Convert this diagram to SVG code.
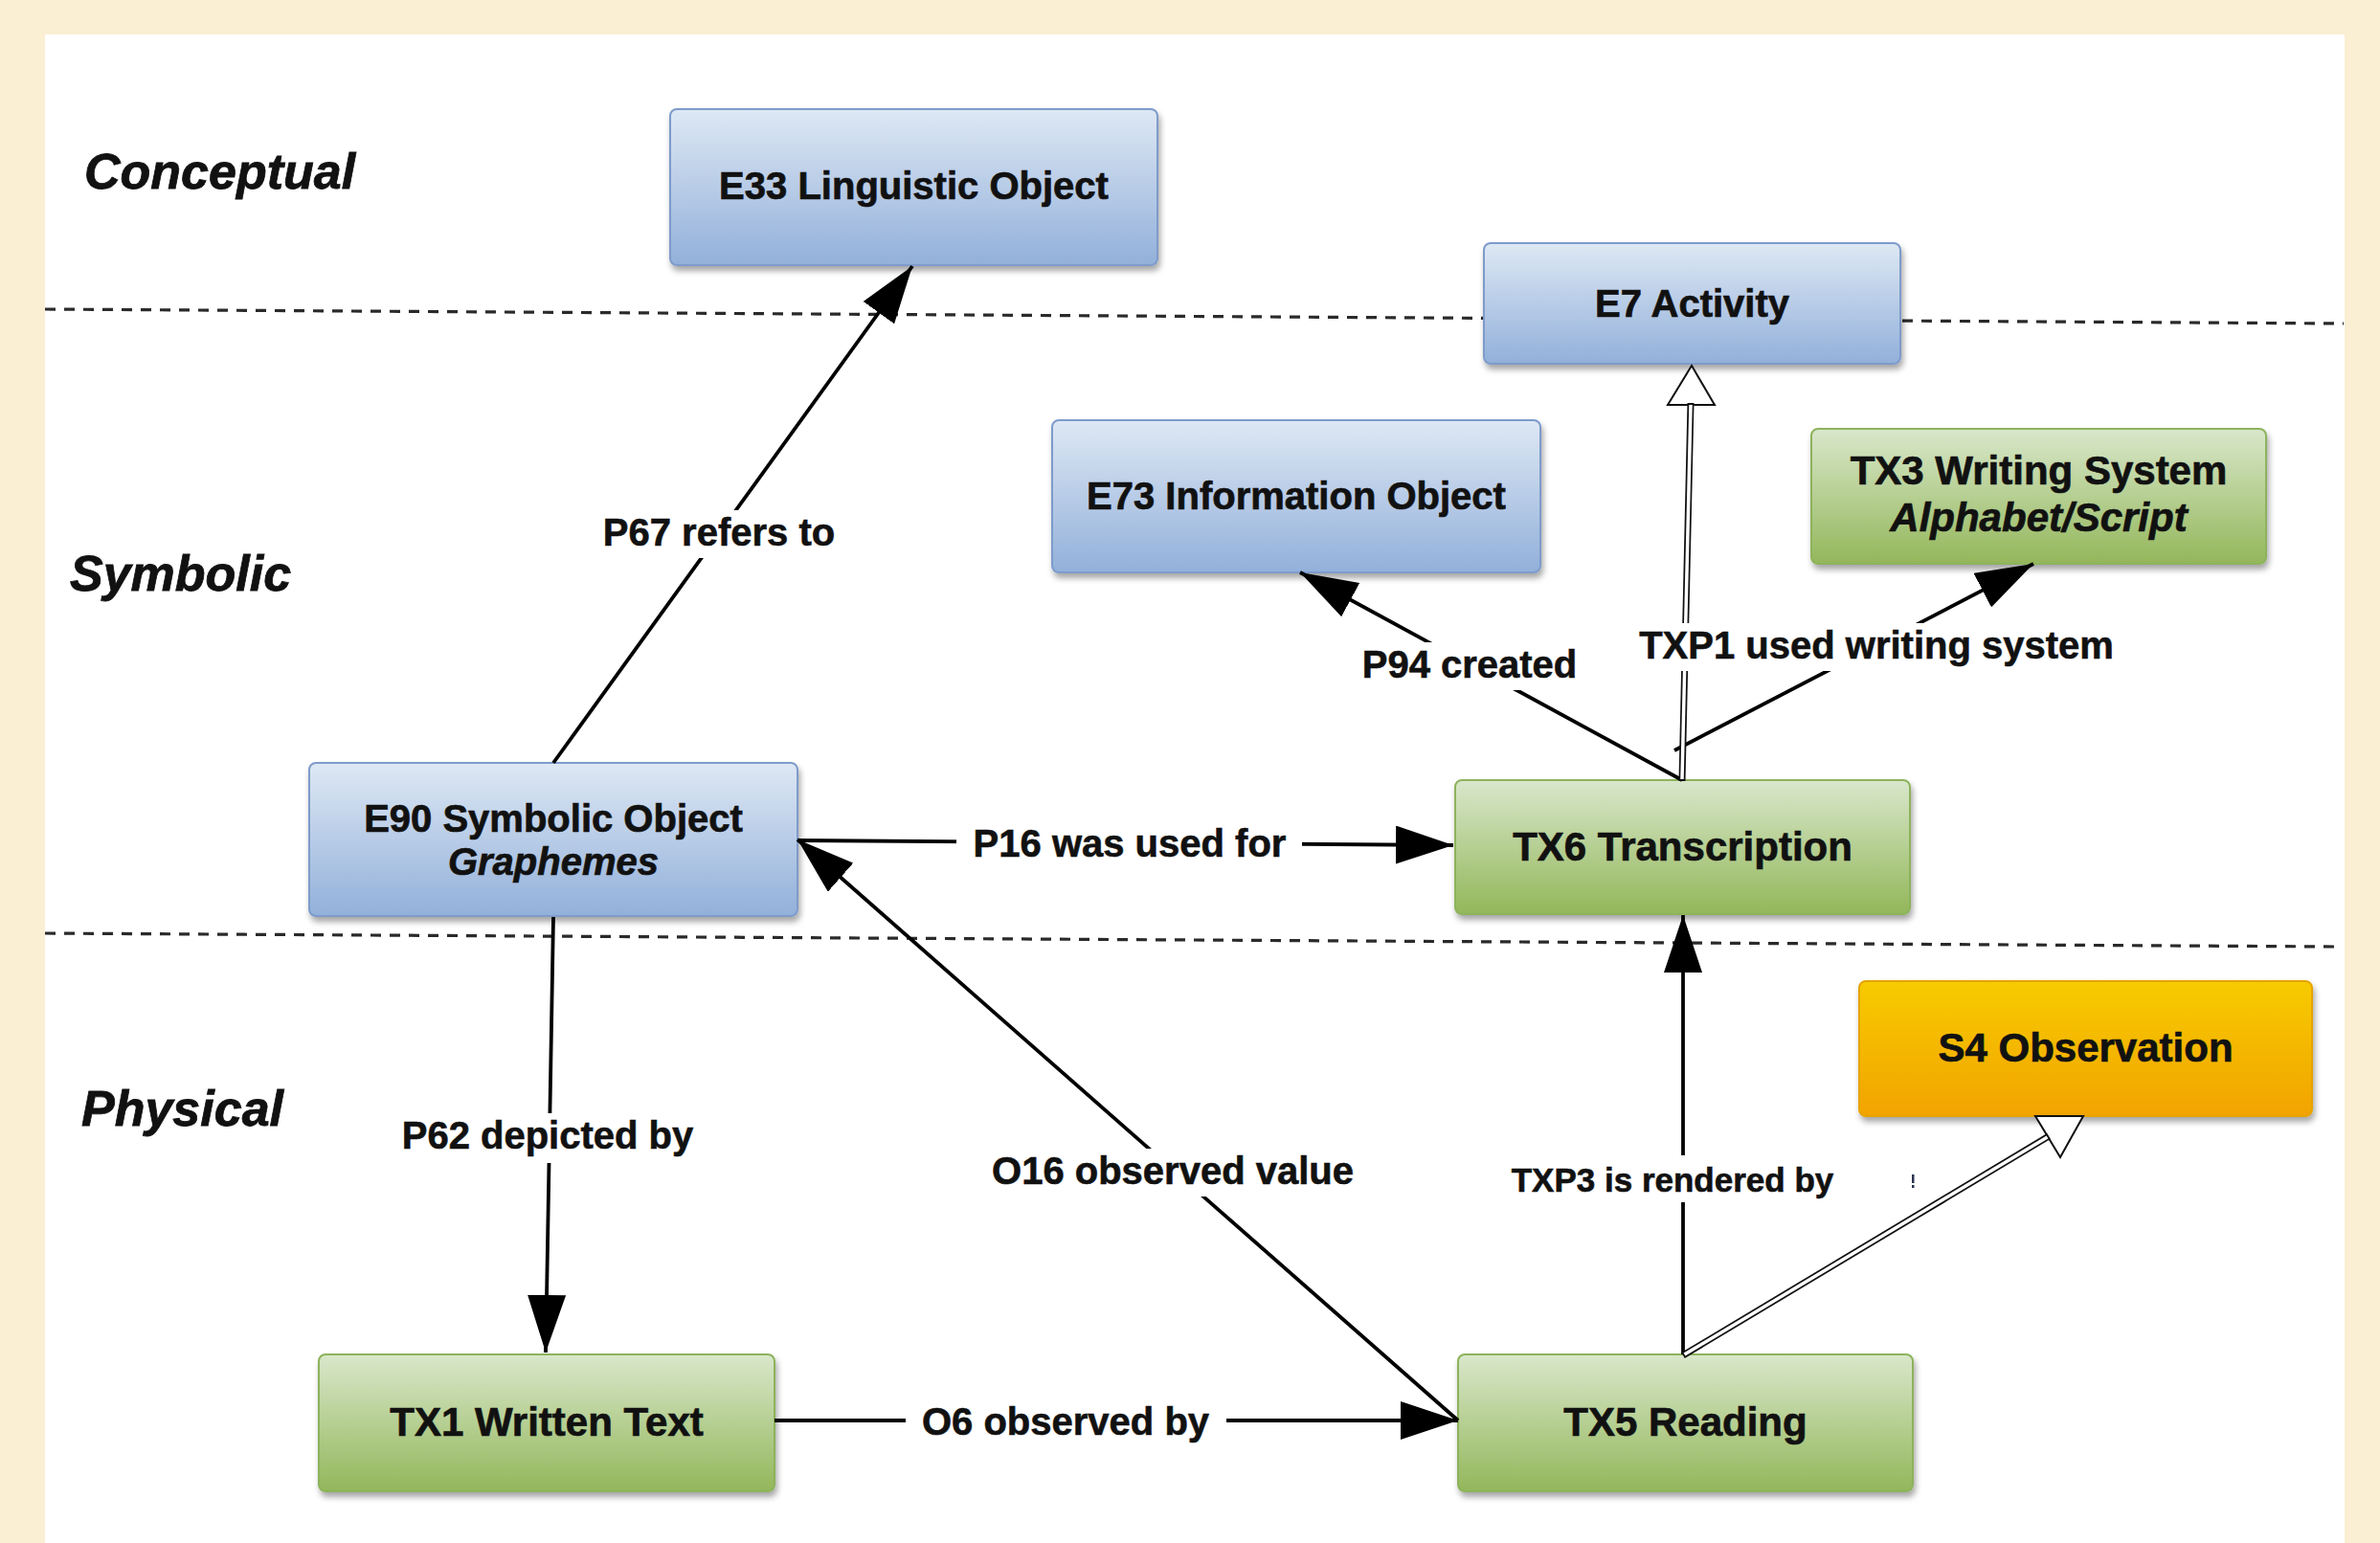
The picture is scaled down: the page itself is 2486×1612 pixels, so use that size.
<svg xmlns="http://www.w3.org/2000/svg" width="2486" height="1612" viewBox="0 0 2486 1612">
<defs>
<linearGradient id="gBlue" x1="0" y1="0" x2="0" y2="1"><stop offset="0" stop-color="#DEE8F4"/><stop offset="1" stop-color="#92B0DA"/></linearGradient>
<linearGradient id="gGreen" x1="0" y1="0" x2="0" y2="1"><stop offset="0" stop-color="#D9E7CB"/><stop offset="1" stop-color="#93B75A"/></linearGradient>
<linearGradient id="gOrange" x1="0" y1="0" x2="0" y2="1"><stop offset="0" stop-color="#F7CB00"/><stop offset="1" stop-color="#F2A300"/></linearGradient>
<filter id="sh" x="-5%" y="-10%" width="115%" height="130%"><feDropShadow dx="2" dy="5" stdDeviation="3" flood-color="#000" flood-opacity="0.35"/></filter>
<marker id="ah" markerUnits="userSpaceOnUse" viewBox="0 0 60 40" markerWidth="60" markerHeight="40" refX="60" refY="20" orient="auto"><path d="M0,0 L60,20 L0,40 Z" fill="#000"/></marker>
<style>
.node rect{stroke-width:2;filter:url(#sh)}
.blue rect{fill:url(#gBlue);stroke:#7E9BCB}
.green rect{fill:url(#gGreen);stroke:#8DB35C}
.orange rect{fill:url(#gOrange);stroke:#E6A400}
.nt{font-family:"Liberation Sans",Arial,sans-serif;font-weight:bold;text-anchor:middle;fill:#111;stroke:#111;stroke-width:0.7}
.blue .nt{font-size:40px}
.green .nt,.orange .nt{font-size:42px}
.it{font-style:italic}
.layer{font-family:"Liberation Sans",Arial,sans-serif;font-weight:bold;font-style:italic;font-size:52px;fill:#111;stroke:#111;stroke-width:0.8}
.dash{stroke:#2A2A2A;stroke-width:3.2;stroke-dasharray:11 9;fill:none}
.edge{stroke:#000;stroke-width:3.8;fill:none}
.hout{stroke:#111;stroke-width:7;fill:none}
.hin{stroke:#fff;stroke-width:3.5;fill:none}
.hhead{fill:#fff;stroke:#111;stroke-width:2}
.lbg{fill:#fff}
.lbl{font-family:"Liberation Sans",Arial,sans-serif;font-weight:bold;font-size:40px;text-anchor:middle;fill:#111;stroke:#111;stroke-width:0.6}
.lbl.sm{font-size:35px}
</style>
</defs>
<rect x="0" y="0" width="2486" height="1612" fill="#FAEFD2"/>
<rect x="47" y="36" width="2402" height="1576" fill="#FFFFFF"/>

<g id="layers">
<line class="dash" x1="47" y1="323" x2="2448" y2="338"/>
<line class="dash" x1="47" y1="975" x2="2440" y2="989"/>
<text class="layer" x="88" y="197">Conceptual</text>
<text class="layer" x="73" y="617">Symbolic</text>
<text class="layer" x="85" y="1176">Physical</text>
</g>

<g id="n-e33" class="node blue"><rect x="700" y="114" width="509" height="163" rx="7"/><text class="nt" x="954.5" y="208">E33 Linguistic Object</text></g>
<g id="n-e7" class="node blue"><rect x="1550" y="254" width="435" height="126" rx="7"/><text class="nt" x="1767.5" y="331">E7 Activity</text></g>
<g id="n-e73" class="node blue"><rect x="1099" y="439" width="510" height="159" rx="7"/><text class="nt" x="1354" y="532">E73 Information Object</text></g>
<g id="n-tx3" class="node green"><rect x="1892" y="448" width="475" height="141" rx="7"/><text class="nt" x="2129.5" y="506">TX3 Writing System</text><text class="nt it" x="2129.5" y="555">Alphabet/Script</text></g>
<g id="n-e90" class="node blue"><rect x="323" y="797" width="510" height="160" rx="7"/><text class="nt" x="578" y="869">E90 Symbolic Object</text><text class="nt it" x="578" y="914">Graphemes</text></g>
<g id="n-tx6" class="node green"><rect x="1520" y="815" width="475" height="140" rx="7"/><text class="nt" x="1757.5" y="899">TX6 Transcription</text></g>
<g id="n-s4" class="node orange"><rect x="1942" y="1025" width="473" height="141" rx="7"/><text class="nt" x="2178.5" y="1109">S4 Observation</text></g>
<g id="n-tx1" class="node green"><rect x="333" y="1415" width="476" height="143" rx="7"/><text class="nt" x="571" y="1500">TX1 Written Text</text></g>
<g id="n-tx5" class="node green"><rect x="1523" y="1415" width="475" height="143" rx="7"/><text class="nt" x="1760.5" y="1500">TX5 Reading</text></g>

<g id="connectors">
<line class="edge" x1="578" y1="797" x2="953" y2="278" marker-end="url(#ah)"/>
<line class="edge" x1="578" y1="958" x2="570" y2="1413" marker-end="url(#ah)"/>
<line class="edge" x1="833" y1="878" x2="1518" y2="883" marker-end="url(#ah)"/>
<line class="edge" x1="809" y1="1484" x2="1523" y2="1484" marker-end="url(#ah)"/>
<line class="edge" x1="1523" y1="1484" x2="833" y2="877" marker-end="url(#ah)"/>
<line class="edge" x1="1758" y1="1415" x2="1758" y2="956" marker-end="url(#ah)"/>
<line class="edge" x1="1757" y1="815" x2="1358" y2="598" marker-end="url(#ah)"/>
<line class="edge" x1="1749" y1="784" x2="2124" y2="589" marker-end="url(#ah)"/>
<polygon class="hhead" points="1767,382 1742,423 1791,423"/>
<line class="hout" x1="1757" y1="816" x2="1766" y2="421"/>
<line class="hin" x1="1757" y1="814" x2="1766" y2="423"/>
<polygon class="hhead" points="2126,1166 2176,1166 2152,1209"/>
<line class="hout" x1="1758" y1="1416" x2="2140" y2="1187"/>
<line class="hin" x1="1759.5" y1="1415.1" x2="2138.5" y2="1187.9"/>

<rect class="lbg" x="616" y="533" width="270" height="50"/>
<text class="lbl" x="751" y="570">P67 refers to</text>
<rect class="lbg" x="406" y="1163" width="334" height="52"/>
<text class="lbl" x="572" y="1200">P62 depicted by</text>
<rect class="lbg" x="999" y="858" width="361" height="50"/>
<text class="lbl" x="1180" y="895">P16 was used for</text>
<rect class="lbg" x="946" y="1462" width="335" height="50"/>
<text class="lbl" x="1113" y="1499">O6 observed by</text>
<rect class="lbg" x="1020" y="1200" width="410" height="50"/>
<text class="lbl" x="1225" y="1237">O16 observed value</text>
<rect class="lbg" x="1410" y="671" width="252" height="50"/>
<text class="lbl" x="1535" y="708">P94 created</text>
<rect class="lbg" x="1698" y="651" width="524" height="50"/>
<text class="lbl" x="1960" y="688">TXP1 used writing system</text>
<rect class="lbg" x="1565" y="1207" width="366" height="49"/>
<text class="lbl sm" x="1747" y="1245">TXP3 is rendered by</text>
<rect x="1997" y="1227" width="2.5" height="9" fill="#2A3550"/>
<rect x="1997" y="1238" width="2.5" height="3" fill="#2A3550"/>
</g>
</svg>
